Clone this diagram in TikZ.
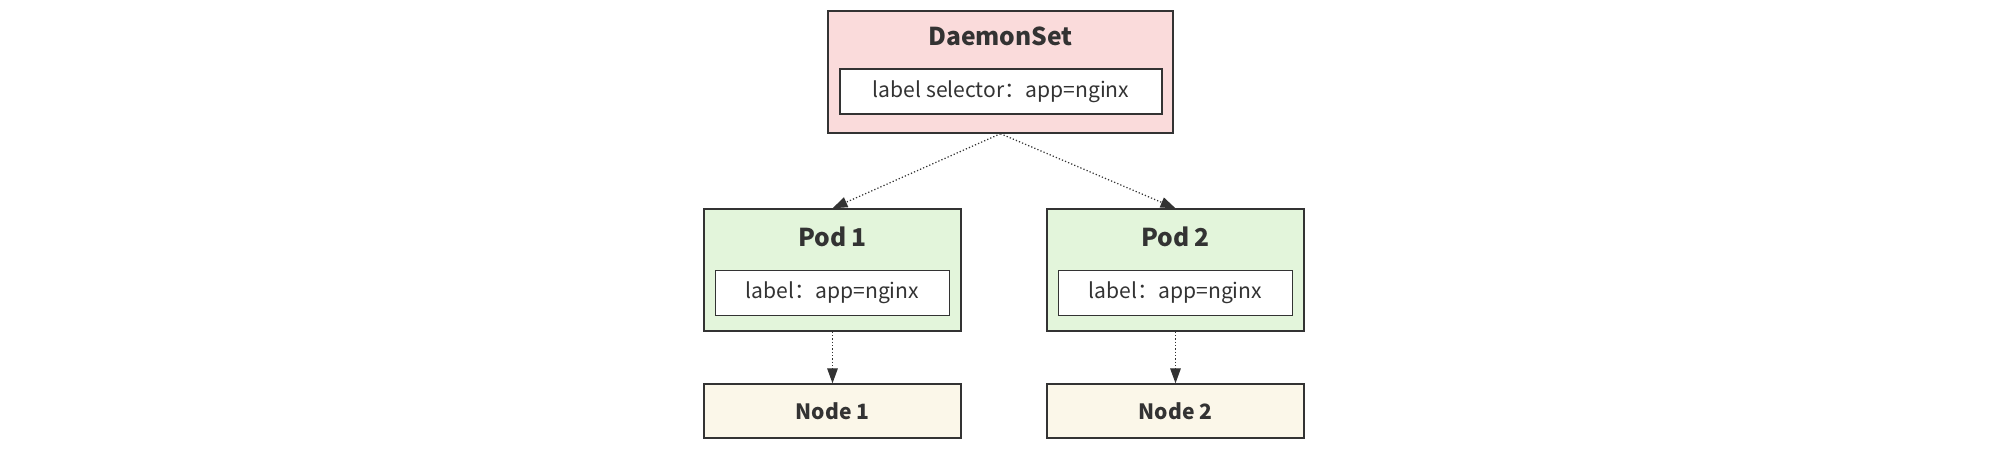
\documentclass[tikz,border=0pt]{standalone}
\usepackage{fontspec}
\setmainfont{Noto Sans CJK SC}
\usetikzlibrary{arrows.meta}
\definecolor{dsfill}{HTML}{FADBDB}
\definecolor{podfill}{HTML}{E3F5DB}
\definecolor{hostfill}{HTML}{FBF7E9}
\definecolor{edgegray}{HTML}{333333}
\begin{document}
\begin{tikzpicture}[
            x=0.02cm, y=-0.02cm,
            outer/.style={draw=edgegray, line width=0.8pt, inner sep=0pt, minimum width=5.14cm, minimum height=2.44cm},
            inner_box/.style={draw=edgegray, line width=0.8pt, fill=white, inner sep=0pt, minimum height=0.9cm, font=\fontsize{12}{14}\selectfont, text=edgegray},
            host/.style={draw=edgegray, line width=0.8pt, fill=hostfill, inner sep=0pt, minimum width=5.14cm, minimum height=1.08cm, font=\fontsize{12}{15}\selectfont\bfseries, text=edgegray},
            title/.style={font=\fontsize{14}{17}\selectfont\bfseries, text=edgegray},
            link/.style={draw=edgegray, line width=0.7pt, dash pattern=on 0.7pt off 1.2pt, -{Triangle[length=8.5pt, width=6pt]}}
        ]
        \useasboundingbox (0,0) rectangle (2001,450);

        % Top node
        \node[outer, fill=dsfill, minimum width=6.9cm] (daemon) at (1000.5,72) {};
        \node[title] (daemon_title) at (1000.5,36) {DaemonSet};
        \node[inner_box, minimum width=6.44cm] (selector) at (1001,91.5) {label selector：app=nginx};

        % Middle level - pods
        \node[outer, fill=podfill] (pod1) at (832.5,270) {};
        \node[title] (pod1_title) at (832.5,237) {Pod 1};
        \node[inner_box, minimum width=4.68cm] (pod1_label) at (832.5,293) {label：app=nginx};

        \node[outer, fill=podfill] (pod2) at (1175.5,270) {};
        \node[title] (pod2_title) at (1175.5,237) {Pod 2};
        \node[inner_box, minimum width=4.68cm] (pod2_label) at (1175.5,293) {label：app=nginx};

        % Bottom level - nodes
        \node[host] (node1) at (832.5,411) {Node 1};
        \node[host] (node2) at (1175.5,411) {Node 2};

        \draw[link] (daemon.south) -- (pod1.north);
        \draw[link] (daemon.south) -- (pod2.north);

        \draw[link] (pod1.south) -- (node1.north);
        \draw[link] (pod2.south) -- (node2.north);

    \end{tikzpicture}
\end{document}
